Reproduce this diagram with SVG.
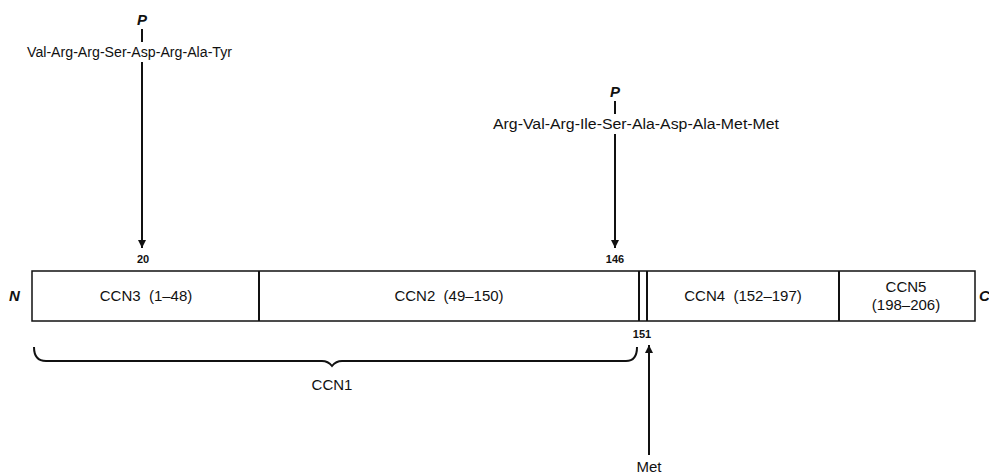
<svg xmlns="http://www.w3.org/2000/svg" width="989" height="475" viewBox="0 0 989 475">
<defs>
<style>
text{font-family:"Liberation Sans",Arial,sans-serif;fill:#111;white-space:pre}
.pep{font-size:14px}
.lbl{font-size:15px;text-anchor:middle}
.num{font-size:11px;font-weight:bold;text-anchor:middle}
.it{font-style:italic;font-size:15px;font-weight:bold}
.ln{stroke:#111;stroke-width:2;fill:none}
.box{stroke:#111;stroke-width:1.5;fill:#fff}
</style>
<marker id="ah" viewBox="0 0 10 10" refX="10" refY="5" markerWidth="8" markerHeight="12" markerUnits="userSpaceOnUse" orient="auto">
<path d="M0,0 L10,5 L0,10 z" fill="#111"/>
</marker>
</defs>
<rect width="989" height="475" fill="#fff"/>
<g id="site1">
<text class="it" x="142" y="25" text-anchor="middle">P</text>
<line class="ln" x1="142" y1="29" x2="142" y2="42"/>
<text class="pep" x="27" y="57" textLength="205" lengthAdjust="spacingAndGlyphs">Val-Arg-Arg-Ser-Asp-Arg-Ala-Tyr</text>
</g>
<g id="site2">
<text class="it" x="615" y="97" text-anchor="middle">P</text>
<line class="ln" x1="615" y1="101" x2="615" y2="114"/>
<text class="pep" x="493" y="129" textLength="286" lengthAdjust="spacingAndGlyphs">Arg-Val-Arg-Ile-Ser-Ala-Asp-Ala-Met-Met</text>
</g>
<g id="protein">
<rect class="box" x="32" y="271" width="943" height="50"/>
<line class="ln" x1="259" y1="271" x2="259" y2="321" stroke-width="1.5"/>
<line class="ln" x1="639" y1="271" x2="639" y2="321" stroke-width="1.5"/>
<line class="ln" x1="647" y1="271" x2="647" y2="321" stroke-width="1.5"/>
<line class="ln" x1="839" y1="271" x2="839" y2="321" stroke-width="1.5"/>
<text class="lbl" x="146" y="301" xml:space="preserve">CCN3  (1–48)</text>
<text class="lbl" x="449" y="301" xml:space="preserve">CCN2  (49–150)</text>
<text class="lbl" x="743" y="301" xml:space="preserve">CCN4  (152–197)</text>
<text class="lbl" x="906" y="292">CCN5</text>
<text class="lbl" x="906" y="310">(198–206)</text>
<text class="it" x="9" y="301">N</text>
<text class="it" x="979" y="301">C</text>
<text class="num" x="143" y="263">20</text>
<text class="num" x="615" y="263">146</text>
<text class="num" x="642" y="338">151</text>
</g>
<g id="ccn1">
<path class="ln" stroke-width="1.6" d="M34,347 Q34,361 46,361 L322,361 Q328,361 332,366 Q336,361 342,361 L626,361 Q637,361 637,347"/>
<text class="lbl" x="332" y="390">CCN1</text>
</g>
<g id="met">
<text class="lbl" x="649" y="472">Met</text>
</g>
<g id="connectors">
<line class="ln" x1="142" y1="62" x2="142" y2="248" marker-end="url(#ah)"/>
<line class="ln" x1="615" y1="134" x2="615" y2="248" marker-end="url(#ah)"/>
<line class="ln" x1="649" y1="455" x2="649" y2="345" marker-end="url(#ah)"/>
</g>
</svg>
